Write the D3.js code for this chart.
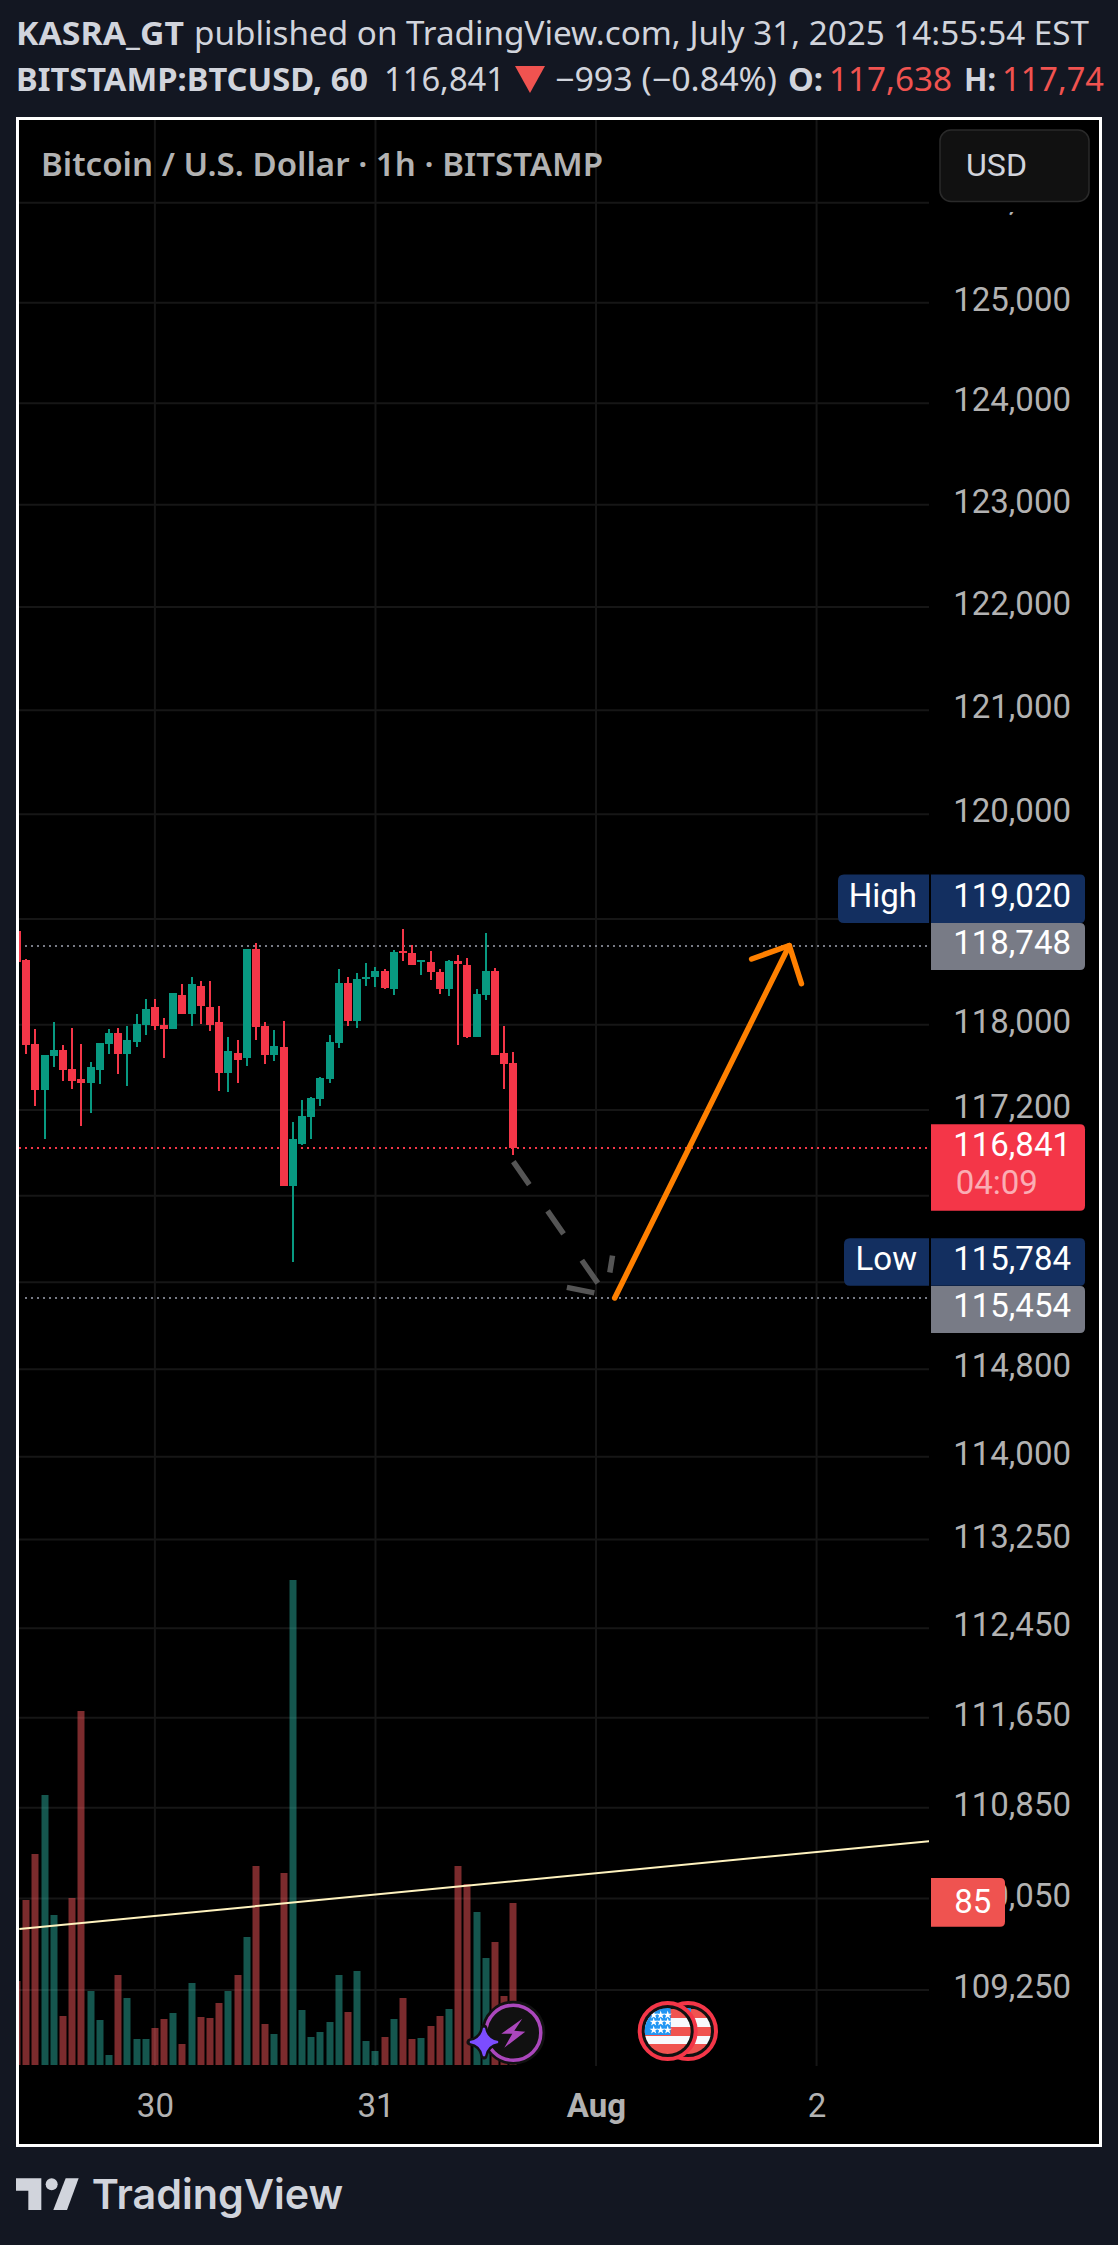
<!DOCTYPE html>
<html lang="en">
<head>
<meta charset="UTF-8">
<title>BTCUSD 1h</title>
<script src="https://d3js.org/d3.v7.min.js"></script>
<style>
  html, body { margin: 0; padding: 0; background: #131722; }
  svg { display: block; }
  .tick-label { font-family: Roboto, sans-serif; font-size: 33px; fill: #b2b2b2; }
  .head { font-family: "Noto Sans", sans-serif; font-size: 32px; fill: #d1d4dc; }
  .tag { font-family: Roboto, sans-serif; font-size: 33px; fill: #fff; }
</style>
</head>
<body>
<svg id="chart" width="1118" height="2245"></svg>
<script>
// hourly candles, first one is cut by the left edge. hour 0 = first full candle
const hours = d3.range(-1, 54);
const opens = [118887,118612,117818,117387,117706,117762,117584,117490,117452,117574,117818,117922,117725,117837,117997,118167,117997,117959,118281,118101,118366,118167,118025,117546,117734,117687,118716,117987,117715,117790,116491,116883,117135,117302,117490,117828,118394,118035,118432,118451,118508,118338,118697,118678,118593,118593,118498,118338,118603,118565,117884,118281,118508,117734,117638];
const highs = [118887,118622,117959,117715,118025,117809,117969,117818,117649,117828,117959,117969,117987,118101,118243,118243,118063,118300,118385,118451,118413,118413,118177,117884,117856,118716,118773,118025,117950,118035,117088,117293,117321,117509,117903,118527,118451,118489,118584,118546,118527,118707,118905,118754,118612,118697,118527,118612,118659,118631,118338,118868,118536,117987,117743];
const lows = [118593,117725,117236,116929,117602,117471,117396,117051,117172,117443,117725,117537,117424,117790,117903,117950,117687,117959,118101,117987,118006,117941,117377,117368,117452,117612,117856,117631,117659,116491,115784,116873,116929,117236,117452,117781,117987,117969,118366,118357,118338,118281,118603,118565,118470,118423,118290,118271,117809,117875,117884,118233,117715,117396,116780];
const closes = [118593,117809,117387,117715,117762,117574,117471,117452,117602,117828,117922,117725,117856,118006,118148,117987,117959,118300,118101,118385,118177,117997,117546,117753,117668,118716,117978,117715,117800,116491,116929,117144,117311,117499,117837,118394,118035,118432,118451,118508,118347,118688,118678,118565,118612,118498,118338,118603,118574,117884,118290,118508,117715,117631,116841];
const volumes = [252,495,633,810,450,147,501,1062,222,135,30,270,201,78,78,111,138,156,63,246,144,141,186,222,270,384,597,123,93,576,1455,165,84,99,129,270,159,282,72,42,84,138,201,78,81,117,147,168,597,543,459,321,369,207,486];

const priceTicks = [126000,125000,124000,123000,122000,121000,120000,119000,118000,117200,116400,115600,114800,114000,113250,112450,111650,110850,110050,109250];
// these three sit fully behind the price tags in the picture
const hiddenLabels = [119000, 116400, 115600];
const timeTicks = [14, 38, 62, 86];
const timeLabels = ["30", "31", "Aug", "2"];

const lastPrice = 116841;
const highValue = 119020, lowValue = 115784;
const upperLevel = 118748, lowerLevel = 115454;
const trendHours = [-0.76, 98.26], trendPrices = [109783, 110556];
const dashedHours = [53, 63.1], dashedPrices = [116717, 115480];
const arrowHours = [64.03, 83.03], arrowPrices = [lowerLevel, upperLevel];

const BG = "#131722", GREEN = "#089981", RED = "#f43648", GRID = "#161616";
const plotL = 19, plotR = 929, plotT = 120, plotB = 2066;

const svg = d3.select("#chart");

const x = d3.scaleLinear().domain([0, 24]).range([26.25, 246.81]);
const y = d3.scaleLog().domain([118000, 109250]).range([1024.7, 1990]);
const yVol = d3.scaleLinear().domain([0, 1455]).range([2065, 1580]);

svg.append("rect").attr("width", 1118).attr("height", 2245).attr("fill", BG);
svg.append("rect").attr("x", 17.5).attr("y", 118.5).attr("width", 1083).attr("height", 2027)
  .attr("fill", "#000").attr("stroke", "#fff").attr("stroke-width", 3);

svg.append("clipPath").attr("id", "plot").append("rect")
  .attr("x", plotL).attr("y", plotT).attr("width", plotR - plotL).attr("height", plotB - plotT);

// grid
svg.append("g").selectAll("line").data(priceTicks).join("line")
  .attr("x1", plotL).attr("x2", plotR)
  .attr("y1", d => y(d)).attr("y2", d => y(d))
  .attr("stroke", GRID).attr("stroke-width", 2);
svg.append("g").selectAll("line").data(timeTicks).join("line")
  .attr("x1", d => x(d)).attr("x2", d => x(d))
  .attr("y1", plotT).attr("y2", plotB)
  .attr("stroke", GRID).attr("stroke-width", 2);

const plot = svg.append("g").attr("clip-path", "url(#plot)");
const isUp = i => closes[i] >= opens[i];

// volume
plot.append("g").selectAll("rect").data(hours).join("rect")
  .attr("x", d => Math.round(x(d)) - 3.5).attr("width", 7)
  .attr("y", (d, i) => yVol(volumes[i]))
  .attr("height", (d, i) => yVol(0) - yVol(volumes[i]))
  .attr("fill", (d, i) => isUp(i) ? "#2aac9c" : "#f65659")
  .attr("fill-opacity", 0.5);

// trend line
plot.append("line")
  .attr("x1", x(trendHours[0])).attr("x2", x(trendHours[1]))
  .attr("y1", y(trendPrices[0])).attr("y2", y(trendPrices[1]))
  .attr("stroke", "#fff3bf").attr("stroke-width", 2);

// level lines
const levels = [[upperLevel, "#787b86", 25], [lastPrice, RED, plotL], [lowerLevel, "#787b86", 25]];
plot.append("g").selectAll("line").data(levels).join("line")
  .attr("x1", d => d[2]).attr("x2", plotR)
  .attr("y1", d => Math.round(y(d[0]))).attr("y2", d => Math.round(y(d[0])))
  .attr("stroke", d => d[1]).attr("stroke-width", 2).attr("stroke-dasharray", "2 4");

// candles
const candles = plot.append("g").attr("shape-rendering", "crispEdges");
candles.selectAll("line").data(hours).join("line")
  .attr("x1", d => Math.round(x(d))).attr("x2", d => Math.round(x(d)))
  .attr("y1", (d, i) => y(highs[i])).attr("y2", (d, i) => y(lows[i]))
  .attr("stroke", (d, i) => isUp(i) ? GREEN : RED).attr("stroke-width", 2);
candles.selectAll("rect").data(hours).join("rect")
  .attr("x", d => Math.round(x(d)) - 4).attr("width", 8)
  .attr("y", (d, i) => y(Math.max(opens[i], closes[i])))
  .attr("height", (d, i) => Math.max(2, Math.abs(y(opens[i]) - y(closes[i]))))
  .attr("fill", (d, i) => isUp(i) ? GREEN : RED);

// arms of an arrow head, turned off the line by 44 degrees
function armEnds(x0, y0, x1, y1, len) {
  const back = Math.atan2(y0 - y1, x0 - x1), turn = 44 * Math.PI / 180;
  return [back - turn, back + turn].map(a => [x1 + len * Math.cos(a), y1 + len * Math.sin(a)]);
}

// projected drop, dashed gray
const dx0 = x(dashedHours[0]), dy0 = y(dashedPrices[0]), dx1 = x(dashedHours[1]), dy1 = y(dashedPrices[1]);
const dashGroup = svg.append("g").attr("stroke", "#555").attr("stroke-width", 5.5).attr("fill", "none");
dashGroup.append("line").attr("x1", dx0).attr("y1", dy0).attr("x2", dx1).attr("y2", dy1)
  .attr("stroke-dasharray", "28 32");
const dashArms = armEnds(dx0, dy0, dx1, dy1, 40);
dashGroup.append("line").attr("x1", dx1).attr("y1", dy1).attr("x2", dashArms[0][0]).attr("y2", dashArms[0][1])
  .attr("stroke-dasharray", "0 12 28 0");
dashGroup.append("line").attr("x1", dx1).attr("y1", dy1).attr("x2", dashArms[1][0]).attr("y2", dashArms[1][1])
  .attr("stroke-dasharray", "0 23 17 0");

// orange arrow
const ax0 = x(arrowHours[0]), ay0 = y(arrowPrices[0]), ax1 = x(arrowHours[1]), ay1 = y(arrowPrices[1]);
const arms = armEnds(ax0, ay0, ax1, ay1, 40);
const arrow = svg.append("g").attr("stroke", "#ff8000").attr("stroke-width", 5.5)
  .attr("stroke-linecap", "round").attr("fill", "none");
arrow.append("line").attr("x1", ax0).attr("y1", ay0).attr("x2", ax1).attr("y2", ay1);
arrow.append("path").attr("d", d3.line()([arms[0], [ax1, ay1], arms[1]])).attr("stroke-linejoin", "round");

// event icons over the volume
function flag(g, cx, cy) {
  const id = "flag" + cx;
  g.append("circle").attr("cx", cx).attr("cy", cy).attr("r", 28).attr("fill", "#111")
    .attr("stroke", "#f43648").attr("stroke-width", 4);
  g.append("clipPath").attr("id", id).append("circle").attr("cx", cx).attr("cy", cy).attr("r", 23);
  const f = g.append("g").attr("clip-path", `url(#${id})`);
  const stripes = [["#f05350", -22, 9], ["#f8f9fd", -13, 9], ["#f05350", -4, 9], ["#f8f9fd", 5, 8], ["#f05350", 13, 11]];
  f.selectAll("rect.s").data(stripes).join("rect").attr("class", "s")
    .attr("x", cx - 24).attr("width", 48).attr("y", d => cy + d[1]).attr("height", d => d[2]).attr("fill", d => d[0]);
  f.append("rect").attr("x", cx - 24).attr("y", cy - 24).attr("width", 27).attr("height", 28).attr("fill", "#2196f3");
  const star = d3.symbol().type(d3.symbolStar).size(22);
  [-14, -7, 0].forEach(sx => [-16, -9, -1].forEach(sy => {
    f.append("path").attr("d", star()).attr("fill", "#fff").attr("transform", `translate(${cx + sx},${cy + sy})`);
  }));
}
const flags = svg.append("g");
flag(flags, 688, 2031);
flag(flags, 667.7, 2031);

const bolt = svg.append("g").attr("transform", "translate(513.3,2032.7)");
bolt.append("circle").attr("r", 30).attr("fill", "#111").attr("stroke", "#111").attr("stroke-width", 4);
bolt.append("circle").attr("r", 27.5).attr("fill", "none").attr("stroke", "#ab47bc").attr("stroke-width", 3.5);
bolt.append("path").attr("d", "M9,-14 L-12,1 L-1,1 L-9,15 L12,-1 L1,-2 Z").attr("fill", "#ab47bc");
const sparkle = "M0,-14 Q2,-2 14,0 Q2,2 0,14 Q-2,2 -14,0 Q-2,-2 0,-14 Z";
const spark = svg.append("g").attr("transform", "translate(484,2042)");
spark.append("path").attr("d", sparkle).attr("fill", "#111").attr("stroke", "#111")
  .attr("stroke-width", 7).attr("stroke-linejoin", "round");
spark.append("path").attr("d", sparkle).attr("fill", "#7c4dff").attr("stroke", "#7c4dff").attr("stroke-width", 2);

// price axis
const yAxis = d3.axisRight(y).tickValues(priceTicks.filter(d => !hiddenLabels.includes(d)))
  .tickFormat(d3.format(",")).tickSize(0);
const yAxisG = svg.append("g").call(yAxis);
yAxisG.select(".domain").remove();
yAxisG.selectAll("text").attr("class", "tick-label").attr("x", 1071).attr("dy", null).attr("y", 7.6)
  .attr("text-anchor", "end").attr("fill", null);

// time axis
const xAxis = d3.axisBottom(x).tickValues(timeTicks).tickFormat((d, i) => timeLabels[i]).tickSize(0);
const xAxisG = svg.append("g").attr("transform", "translate(0,2117)").call(xAxis);
xAxisG.select(".domain").remove();
xAxisG.selectAll("text").attr("class", "tick-label").attr("y", 0).attr("dy", null).attr("fill", null)
  .attr("text-anchor", "middle").style("font-weight", d => d === 62 ? 700 : 400);

// price tags
function tagRect(x0, x1, yTop, yBot, fill, r) {
  svg.append("path").attr("fill", fill).attr("d",
    `M${x0},${yTop} H${x1 - r} Q${x1},${yTop} ${x1},${yTop + r} V${yBot - r} Q${x1},${yBot} ${x1 - r},${yBot} H${x0} Z`);
}
function labelTag(x0, x1, yTop, yBot, fill) {
  const r = 6;
  svg.append("path").attr("fill", fill).attr("d",
    `M${x1},${yTop} H${x0 + r} Q${x0},${yTop} ${x0},${yTop + r} V${yBot - r} Q${x0},${yBot} ${x0 + r},${yBot} H${x1} Z`);
}
function tagText(txt, xEnd, yBase, anchor, op) {
  svg.append("text").attr("class", "tag").attr("x", xEnd).attr("y", yBase)
    .attr("text-anchor", anchor || "end").attr("fill-opacity", op || 1).text(txt);
}
const fmt = d3.format(",");
const tagL = 931, tagR = 1085, labelR = 929, NAVY = "#132f60", TAGGRAY = "#787b86";

const upperY = y(upperLevel), lowerY = y(lowerLevel), lastY = y(lastPrice), lowY = y(lowValue);
const highY = upperY - 47;  // pushed up, would sit on the 118,748 tag

tagRect(tagL, tagR, highY - 24, highY + 24.5, NAVY, 5);
labelTag(838, labelR, highY - 24, highY + 24.5, NAVY);
tagText(fmt(highValue), 1071, highY + 8.5);
tagText("High", 917, highY + 8.5);

tagRect(tagL, tagR, upperY - 22.5, upperY + 24.5, TAGGRAY, 5);
tagText(fmt(upperLevel), 1071, upperY + 8.5);

tagRect(tagL, tagR, lastY - 24, lastY + 62.5, RED, 5);
tagText(fmt(lastPrice), 1071, lastY + 7.5);
tagText("04:09", 955.7, lastY + 46, "start", 0.6);

tagRect(tagL, tagR, lowY - 24, lowY + 23.5, NAVY, 5);
labelTag(844, labelR, lowY - 24, lowY + 23.5, NAVY);
tagText(fmt(lowValue), 1071, lowY + 7.5);
tagText("Low", 917, lowY + 7.5);

// sits below the Low tag, not centred on its level
tagRect(tagL, tagR, lowerY - 12, lowerY + 35, TAGGRAY, 5);
tagText(fmt(lowerLevel), 1071, lowerY + 19);

tagRect(tagL, 1005, 1878, 1926.7, "#ef5350", 5);
tagText("85", 972.7, 1913, "middle");

// currency button, covers the top tick label
svg.append("rect").attr("x", 931).attr("y", 122).attr("width", 168).attr("height", 90).attr("fill", "#000");
svg.append("rect").attr("x", 940).attr("y", 130).attr("width", 149).attr("height", 71.5).attr("rx", 11)
  .attr("fill", "#111").attr("stroke", "#2a2a2a").attr("stroke-width", 1.5);
svg.append("text").attr("class", "head").attr("x", 966).attr("y", 176)
  .style("font-family", "Roboto, sans-serif").attr("textLength", 61).attr("lengthAdjust", "spacingAndGlyphs").text("USD");

// header and legend text, [text, start, width, bold, colour, baseline]
const headRuns = [
  ["KASRA_GT", 16, 168, 700, "#d1d4dc", 45],
  ["published on TradingView.com, July 31, 2025 14:55:54 EST", 194, 895, 400, "#d1d4dc", 45],
  ["BITSTAMP:BTCUSD, 60", 16, 352, 700, "#d1d4dc", 91],
  ["116,841", 384, 121, 400, "#d1d4dc", 91],
  ["\u2212993 (\u22120.84%)", 555, 222, 400, "#d1d4dc", 91],
  ["O:", 788, 35, 700, "#d1d4dc", 91],
  ["117,638", 829, 123, 400, "#f05350", 91],
  ["H:", 964, 32, 700, "#d1d4dc", 91],
  ["117,74", 1002, 102, 400, "#f05350", 91],
  ["Bitcoin / U.S. Dollar \u00b7 1h \u00b7 BITSTAMP", 41, 562, 600, "#b2b2b2", 176]
];
svg.append("g").selectAll("text").data(headRuns).join("text")
  .attr("class", "head").attr("x", d => d[1]).attr("y", d => d[5])
  .attr("textLength", d => d[2]).attr("lengthAdjust", "spacingAndGlyphs")
  .style("font-weight", d => d[3]).style("fill", d => d[4]).text(d => d[0]);
svg.append("path").attr("d", "M515,66 H545 L530,93 Z").attr("fill", "#f05350");

// logo
const logo = svg.append("g").attr("fill", "#d1d4dc").attr("transform", "translate(0,2150) scale(0.3333)");
logo.append("path").attr("d", "M48,85 H124 V180 H85 V122 H48 Z");
logo.append("circle").attr("cx", 155).attr("cy", 103).attr("r", 18);
logo.append("path").attr("d", "M197,85 H236 L201,180 H160 Z");
svg.append("text").attr("x", 91.7).attr("y", 2209).attr("textLength", 251.5).attr("lengthAdjust", "spacingAndGlyphs")
  .style("font-family", "Inter, sans-serif").style("font-weight", 600).style("font-size", "41px")
  .style("fill", "#d1d4dc").text("TradingView");
</script>
</body>
</html>
